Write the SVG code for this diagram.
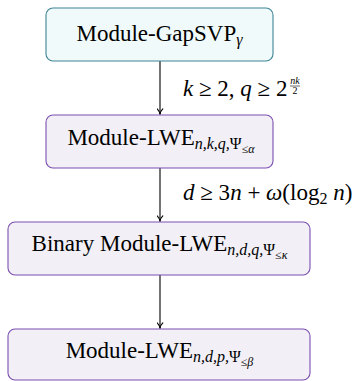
<svg xmlns="http://www.w3.org/2000/svg" width="354" height="381" viewBox="0 0 354 381">
  <defs>
    <marker id="arrow" viewBox="0 0 10 10" refX="9" refY="5" markerWidth="7" markerHeight="7" markerUnits="userSpaceOnUse" orient="auto">
      <path d="M1,1 Q5,5 9,5 Q5,5 1,9" fill="none" stroke="#000" stroke-width="1.6" stroke-linecap="round"/>
    </marker>
  </defs>
  <style>
    .box-teal { fill: #f0fafa; stroke: #3d8495; stroke-width: 1.1; }
    .box { fill: #f2f0f6; stroke: #7b4fb2; stroke-width: 1.1; }
    .t { font-family: "Liberation Serif", "DejaVu Serif", serif; font-size: 23px; fill: #000; }
    .sub { font-size: 16px; font-style: italic; }
    .subsub { font-size: 12px; font-style: italic; }
    .up { font-style: normal; }
    .m { font-family: "Liberation Serif", "DejaVu Serif", serif; font-size: 23px; fill: #000; }
    .frac { font-family: "Liberation Serif", "DejaVu Serif", serif; font-size: 10px; fill: #000; }
    .i { font-style: italic; }
    .edge { stroke: #000; stroke-width: 1.1; fill: none; }
  </style>

  <g id="connectors">
    <line class="edge" x1="160" y1="61" x2="160" y2="114.5" marker-end="url(#arrow)"/>
    <line class="edge" x1="160" y1="168" x2="160" y2="221.5" marker-end="url(#arrow)"/>
    <line class="edge" x1="160" y1="275" x2="160" y2="328.5" marker-end="url(#arrow)"/>
    <g id="label-gap">
      <text class="m" x="183" y="96"><tspan class="i">k</tspan> ≥ 2, <tspan class="i">q</tspan> ≥ 2</text>
      <text class="frac i" x="295" y="84" text-anchor="middle">nk</text>
      <line x1="290" y1="86" x2="300" y2="86" stroke="#000" stroke-width="0.6"/>
      <text class="frac" x="295" y="94" text-anchor="middle">2</text>
    </g>
    <g id="label-binary">
      <text class="m" x="183" y="200"><tspan class="i">d</tspan> ≥ 3<tspan class="i">n</tspan> + <tspan class="i">ω</tspan>(log<tspan font-size="16" dy="4">2</tspan><tspan dy="-4"> </tspan><tspan class="i">n</tspan>)</text>
    </g>
  </g>

  <g id="gapsvp">
    <rect class="box-teal" x="46" y="8" width="227" height="53" rx="7"/>
    <text class="t" x="159.5" y="41" text-anchor="middle">Module-GapSVP<tspan class="sub" dy="4">γ</tspan></text>
  </g>

  <g id="mlwe-k">
    <rect class="box" x="46" y="115" width="227" height="53" rx="7"/>
    <text class="t" x="161" y="145" text-anchor="middle">Module-LWE<tspan class="sub" dy="4">n,k,q,<tspan class="up">Ψ</tspan></tspan><tspan class="subsub" dy="4"><tspan class="up">≤</tspan>α</tspan></text>
  </g>

  <g id="binary-mlwe">
    <rect class="box" x="8" y="222" width="302" height="53" rx="7"/>
    <text class="t" x="159.5" y="251" text-anchor="middle">Binary Module-LWE<tspan class="sub" dy="4">n,d,q,<tspan class="up">Ψ</tspan></tspan><tspan class="subsub" dy="4"><tspan class="up">≤</tspan>κ</tspan></text>
  </g>

  <g id="mlwe-p">
    <rect class="box" x="8" y="329" width="302" height="51" rx="7"/>
    <text class="t" x="159.5" y="358" text-anchor="middle">Module-LWE<tspan class="sub" dy="4">n,d,p,<tspan class="up">Ψ</tspan></tspan><tspan class="subsub" dy="4"><tspan class="up">≤</tspan>β</tspan></text>
  </g>
</svg>
